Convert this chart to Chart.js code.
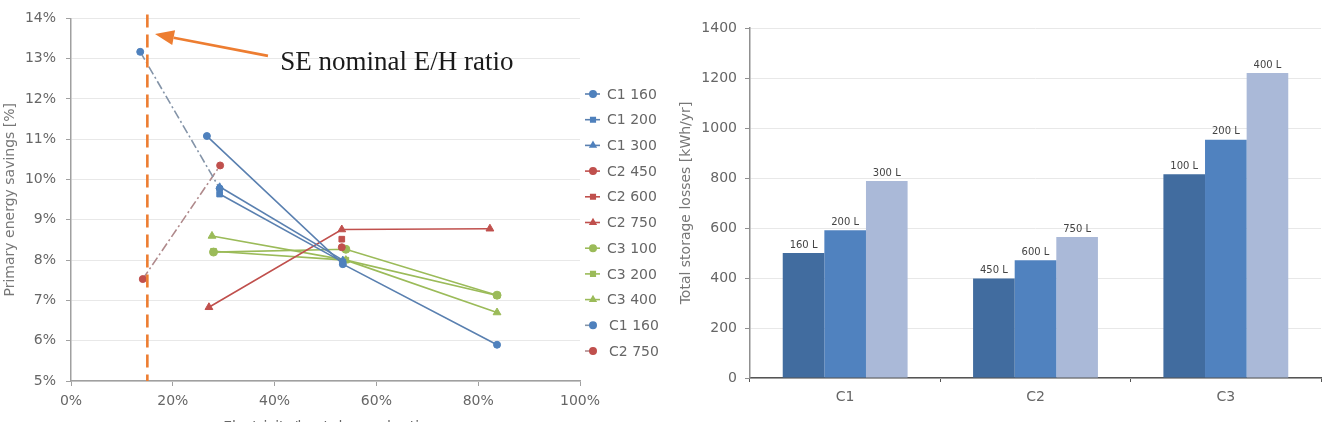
<!DOCTYPE html>
<html>
<head>
<meta charset="utf-8">
<script src="https://cdn.jsdelivr.net/npm/chart.js@4.4.0/dist/chart.umd.min.js"></script>
<style>
  html, body { margin:0; padding:0; width:1332px; height:422px; overflow:hidden; background:#fff; }
  #left { position:absolute; left:0; top:0; }
  #right { position:absolute; left:665px; top:0; }
</style>
</head>
<body>
<canvas id="left" width="665" height="450"></canvas>
<canvas id="right" width="667" height="422"></canvas>
<script>
// ---------- Left chart data (x: electricity/heat demand ratio %, y: primary energy savings %) ----------
const xTicks = [0, 20, 40, 60, 80, 100];
const yTicks = [5, 6, 7, 8, 9, 10, 11, 12, 13, 14];
const c1_160 = [{x:26.7,y:11.08},{x:53.4,y:7.9},{x:83.7,y:5.9}];
const c1_200 = [{x:29.2,y:9.64},{x:53.4,y:7.95}];
const c1_300 = [{x:29.2,y:9.82},{x:53.4,y:8.0}];
const c2_450 = [{x:53.2,y:8.32}];
const c2_600 = [{x:53.2,y:8.52}];
const c2_750 = [{x:27.1,y:6.83},{x:53.2,y:8.76},{x:82.3,y:8.78}];
const c3_100 = [{x:28.0,y:8.2},{x:54.0,y:8.27},{x:83.7,y:7.13}];
const c3_200 = [{x:28.0,y:8.22},{x:54.0,y:8.0},{x:83.7,y:7.12}];
const c3_400 = [{x:27.7,y:8.6},{x:54.0,y:8.0},{x:83.7,y:6.7}];
const c1_160_se = [{x:13.6,y:13.17},{x:29.2,y:9.78}];
const c2_750_se = [{x:14.1,y:7.53},{x:29.3,y:10.35}];
const seNominalRatio = 15;
const annotationText = "SE nominal E/H ratio";
const arrowTip = {x:16.5, y:13.61};
const arrowTail = {x:38.7, y:13.07};
const textAnchor = {x:41.1, y:12.73};

// ---------- Right chart data ----------
const categories = ["C1", "C2", "C3"];
const smallTank = [500, 398, 815];
const mediumTank = [591, 471, 953];
const largeTank = [788, 564, 1220];
const smallLabels = ["160 L", "450 L", "100 L"];
const mediumLabels = ["200 L", "600 L", "200 L"];
const largeLabels = ["300 L", "750 L", "400 L"];
const barTicks = [0, 200, 400, 600, 800, 1000, 1200, 1400];

const FONT = "'DejaVu Sans', sans-serif";
const BLUE = '#4f81bd', BLUE_L = '#5a80b0';
const RED = '#c0504d', GREEN = '#9bbb59';

function ds(label, data, color, lineColor, style, radius, dash) {
  return {
    label, data, showLine: true,
    borderColor: lineColor, backgroundColor: color,
    pointBackgroundColor: color, pointBorderColor: color,
    pointStyle: style, pointRadius: radius, pointHoverRadius: radius,
    borderWidth: 1.6, borderDash: dash || [], pointBorderWidth: 1
  };
}

const leftDatasets = [
  ds('C1 160', c1_160, BLUE, BLUE_L, 'circle', 3.5),
  ds('C1 200', c1_200, BLUE, BLUE_L, 'rect', 4),
  ds('C1 300', c1_300, BLUE, BLUE_L, 'triangle', 4),
  ds('C2 450', c2_450, RED, RED, 'circle', 3.5),
  ds('C2 600', c2_600, RED, RED, 'rect', 4),
  ds('C2 750', c2_750, RED, RED, 'triangle', 4.5),
  ds('C3 100', c3_100, GREEN, GREEN, 'circle', 4),
  ds('C3 200', c3_200, GREEN, GREEN, 'rect', 4),
  ds('C3 400', c3_400, GREEN, GREEN, 'triangle', 4.5),
  ds('C1 160', c1_160_se, BLUE, '#8494a8', 'circle', 3.5, [9,3,2,3]),
  ds('C2 750', c2_750_se, RED, '#b08a8c', 'circle', 3.5, [9,3,2,3])
];

const leftExtras = {
  id: 'leftExtras',
  afterDatasetsDraw(chart) {
    const ctx = chart.ctx, xs = chart.scales.x, ys = chart.scales.y, a = chart.chartArea;
    ctx.save();
    const vx = xs.getPixelForValue(seNominalRatio);
    ctx.strokeStyle = '#ed7d31';
    ctx.lineWidth = 2.6;
    ctx.setLineDash([13, 7]);
    ctx.beginPath();
    ctx.moveTo(vx, a.top - 4);
    ctx.lineTo(vx, a.bottom);
    ctx.stroke();
    ctx.setLineDash([]);
    const tx = xs.getPixelForValue(arrowTip.x), ty = ys.getPixelForValue(arrowTip.y);
    const sx = xs.getPixelForValue(arrowTail.x), sy = ys.getPixelForValue(arrowTail.y);
    const ang = Math.atan2(ty - sy, tx - sx);
    const hl = 19, hw = 7.5;
    const bx = tx - hl * Math.cos(ang), by = ty - hl * Math.sin(ang);
    ctx.lineWidth = 2.6;
    ctx.beginPath();
    ctx.moveTo(sx, sy);
    ctx.lineTo(bx, by);
    ctx.stroke();
    ctx.fillStyle = '#ed7d31';
    ctx.beginPath();
    ctx.moveTo(tx, ty);
    ctx.lineTo(bx + hw * Math.sin(ang), by - hw * Math.cos(ang));
    ctx.lineTo(bx - hw * Math.sin(ang), by + hw * Math.cos(ang));
    ctx.closePath();
    ctx.fill();
    ctx.fillStyle = '#1a1a1a';
    ctx.font = "27px 'Liberation Serif', 'Times New Roman', serif";
    ctx.textAlign = 'left';
    ctx.textBaseline = 'alphabetic';
    ctx.fillText(annotationText, xs.getPixelForValue(textAnchor.x), ys.getPixelForValue(textAnchor.y));
    ctx.restore();
  },
  afterDraw(chart) {
    const ctx = chart.ctx, a = chart.chartArea;
    ctx.save();
    const x0 = a.right + 5, y0 = 94, step = 25.7;
    chart.data.datasets.forEach((d, i) => {
      const y = y0 + i * step;
      const dashed = d.borderDash.length > 0;
      ctx.strokeStyle = d.borderColor;
      ctx.lineWidth = 1.6;
      ctx.beginPath();
      ctx.moveTo(x0, y);
      ctx.lineTo(x0 + (dashed ? 6 : 15), y);
      ctx.stroke();
      ctx.fillStyle = d.pointBackgroundColor;
      ctx.strokeStyle = d.pointBorderColor;
      Chart.helpers.drawPoint(ctx, {pointStyle: d.pointStyle, radius: 3.2, borderWidth: 1, rotation: 0}, x0 + 8, y);
      ctx.fillStyle = '#666';
      ctx.font = "14px " + FONT;
      ctx.textAlign = 'left';
      ctx.textBaseline = 'middle';
      ctx.fillText(d.label, x0 + (dashed ? 24 : 22), y + 1);
    });
    ctx.restore();
  }
};

new Chart(document.getElementById('left'), {
  type: 'scatter',
  data: { datasets: leftDatasets },
  options: {
    responsive: false, animation: false, devicePixelRatio: 1,
    layout: { padding: { left: 0, right: 85, top: 14, bottom: 0 } },
    plugins: { legend: { display: false }, tooltip: { enabled: false } },
    scales: {
      x: {
        type: 'linear', min: 0, max: 100,
        afterFit(s) { s.height = 69; },
        afterBuildTicks(s) { s.ticks = xTicks.map(v => ({value: v})); },
        ticks: { padding: 7, color: '#666', font: { family: FONT, size: 14 }, callback: v => v + '%' },
        grid: { drawOnChartArea: false, tickLength: 5, tickColor: '#a0a0a0' },
        border: { color: '#a0a0a0', width: 1.5 },
        title: { display: true, text: 'Electricity/heat demand ratio', color: '#666', font: { family: FONT, size: 14 }, padding: { top: 0, bottom: 14 } }
      },
      y: {
        type: 'linear', min: 5, max: 14,
        afterFit(s) { s.width = 71; },
        afterBuildTicks(s) { s.ticks = yTicks.map(v => ({value: v})); },
        ticks: { padding: 10, color: '#666', font: { family: FONT, size: 14 }, callback: v => v + '%' },
        grid: { color: '#e8e8e8', tickLength: 5, tickColor: '#a0a0a0', lineWidth: 1 },
        border: { color: '#a0a0a0', width: 1.5 },
        title: { display: true, text: 'Primary energy savings [%]', color: '#777', font: { family: FONT, size: 14 }, padding: { top: 2, bottom: 0 } }
      }
    }
  },
  plugins: [leftExtras]
});

// ---------- Right chart ----------
const barLabels = [smallLabels, mediumLabels, largeLabels];
const barLabelPlugin = {
  id: 'barLabels',
  afterDatasetsDraw(chart) {
    const ctx = chart.ctx;
    ctx.save();
    ctx.fillStyle = '#444';
    ctx.font = "10px " + FONT;
    ctx.textAlign = 'center';
    ctx.textBaseline = 'bottom';
    chart.data.datasets.forEach((d, i) => {
      chart.getDatasetMeta(i).data.forEach((el, j) => {
        ctx.fillText(barLabels[i][j], el.x, el.y - 3);
      });
    });
    ctx.restore();
  }
};

new Chart(document.getElementById('right'), {
  type: 'bar',
  data: {
    labels: categories,
    datasets: [
      { label: 'small', data: smallTank, backgroundColor: '#416c9f' },
      { label: 'medium', data: mediumTank, backgroundColor: '#5082bf' },
      { label: 'large', data: largeTank, backgroundColor: '#aab9d8' }
    ]
  },
  options: {
    responsive: false, animation: false, devicePixelRatio: 1,
    layout: { padding: { left: 0, right: 11, top: 28, bottom: 0 } },
    datasets: { bar: { categoryPercentage: 0.656, barPercentage: 1.0, borderWidth: 0 } },
    plugins: { legend: { display: false }, tooltip: { enabled: false } },
    scales: {
      x: {
        afterFit(s) { s.height = 44; },
        ticks: { padding: 7, color: '#666', font: { family: FONT, size: 14 } },
        grid: { drawOnChartArea: false, offset: true, tickLength: 4, tickColor: '#555' },
        border: { color: '#555', width: 1.5 }
      },
      y: {
        min: 0, max: 1400,
        afterFit(s) { s.width = 85; },
        afterBuildTicks(s) { s.ticks = barTicks.map(v => ({value: v})); },
        ticks: { padding: 8, color: '#666', font: { family: FONT, size: 14 }, callback: v => String(v) },
        grid: { color: '#e8e8e8', tickLength: 5, tickColor: '#909090' },
        border: { color: '#909090', width: 1.5 },
        title: { display: true, text: 'Total storage losses [kWh/yr]', color: '#777', font: { family: FONT, size: 14 }, padding: { top: 13, bottom: 0 } }
      }
    }
  },
  plugins: [barLabelPlugin]
});
</script>
</body>
</html>
